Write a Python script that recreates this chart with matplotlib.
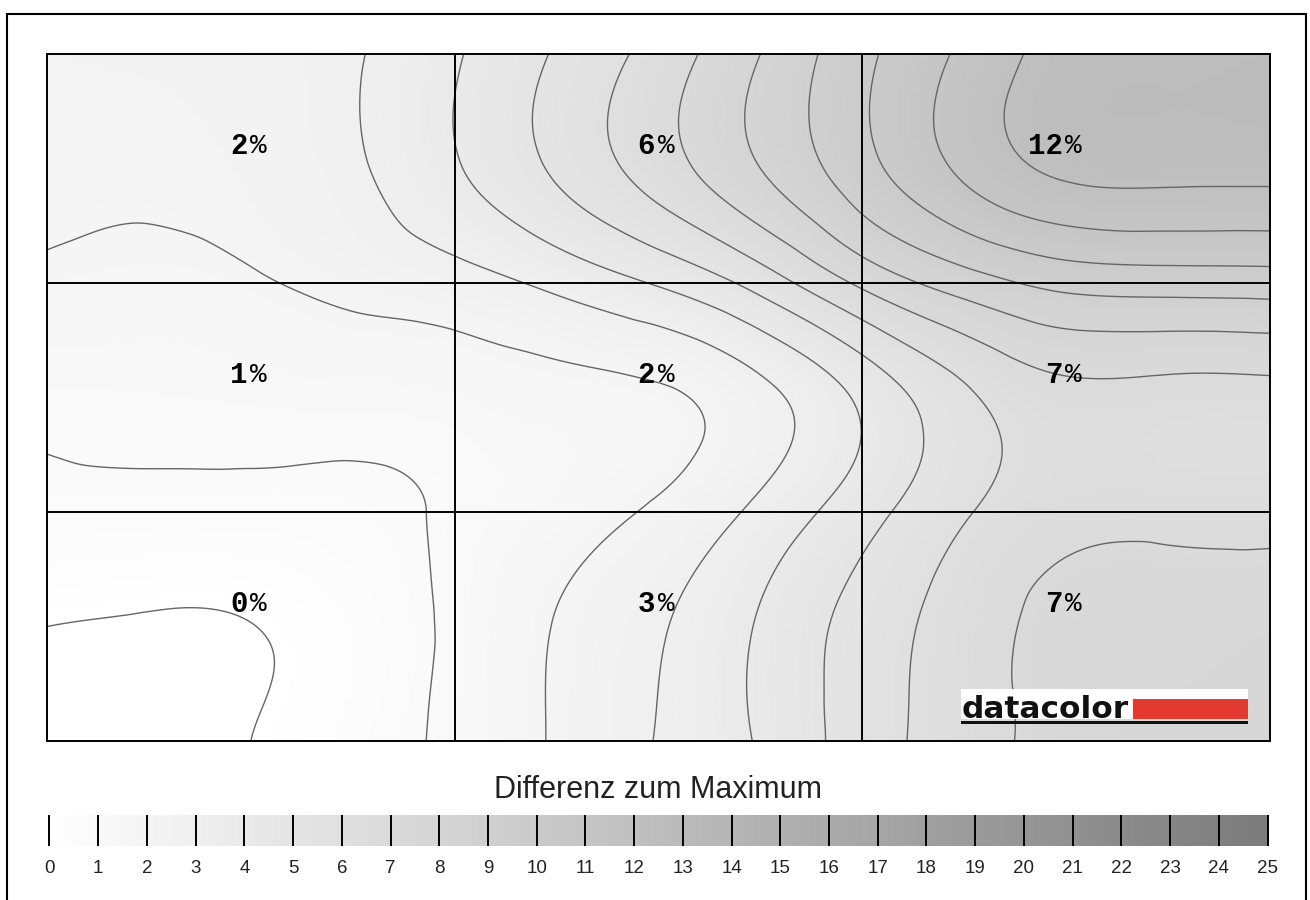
import numpy as np
import matplotlib
matplotlib.use("Agg")
import matplotlib.pyplot as plt
import matplotlib.tri as mtri
from matplotlib.colors import LinearSegmentedColormap
from matplotlib.patches import Rectangle

# sample points of the measured field (cell units, y from bottom)
grid_x = [0, 0.25, 0.5, 0.75, 1.0, 1.25, 1.5, 1.75, 2.0, 2.25, 2.5, 2.75, 3.0]
grid_y = [0, 0.5, 1.0, 1.5, 2.0, 2.5, 3.0]

# difference to maximum in %, one row per grid_y value (bottom -> top)
row_00 = [-0.5, -0.3, 0.0, 0.6, 1.2, 2.1, 3.05, 4.1, 5.5, 6.55, 7.35, 7.6, 7.7]
row_05 = [0.0, -0.1, -0.02, 0.5, 1.15, 2.05, 2.9, 4.1, 5.4, 6.5, 7.3, 7.4, 7.5]
row_10 = [0.8, 0.8, 0.8, 0.85, 1.1, 1.55, 2.15, 3.25, 4.6, 5.9, 6.7, 6.75, 6.7]
row_15 = [1.2, 1.25, 1.3, 1.35, 1.45, 1.65, 1.85, 2.7, 4.2, 5.8, 6.7, 6.65, 6.65]
row_20 = [1.85, 1.75, 1.9, 2.25, 2.6, 3.25, 4.1, 5.4, 7.2, 8.5, 9.3, 9.45, 9.5]
row_25 = [2.08, 2.1, 2.3, 2.85, 3.9, 5.15, 6.5, 8.0, 9.65, 11.2, 12.2, 12.3, 12.3]
row_30 = [2.25, 2.3, 2.45, 2.9, 3.9, 5.1, 6.4, 8.0, 9.75, 11.2, 12.4, 12.6, 12.7]

# labels of the 3x3 cells, top row first
cell_labels = [[2, 6, 12],
               [1, 2, 7],
               [0, 3, 7]]

contour_levels = list(range(0, 13))
scale_ticks = list(range(0, 26))

W, H = 1310, 900
fig = plt.figure(figsize=(W / 100, H / 100), dpi=100)

cmap = LinearSegmentedColormap.from_list("grey_diff", ["#ffffff", "#7c7c7c"])

ax = fig.add_axes([47 / W, (H - 741) / H, (1270 - 47) / W, (741 - 54) / H])
X, Y = np.meshgrid(grid_x, grid_y)
Z = np.array([row_00, row_05, row_10, row_15, row_20, row_25, row_30]).ravel()
tri = mtri.Triangulation(X.ravel(), Y.ravel())
interp = mtri.CubicTriInterpolator(tri, Z, kind="min_E")
refiner = mtri.UniformTriRefiner(tri)
tri_f, z_f = refiner.refine_field(Z, triinterpolator=interp, subdiv=5)

ax.tripcolor(tri_f, z_f, cmap=cmap, vmin=0, vmax=25, shading="gouraud")
ax.tricontour(tri_f, z_f, levels=contour_levels, colors="#666666", linewidths=1.0)

for v in [1, 2]:
    ax.axvline(v, color="black", lw=1.4)
    ax.axhline(v, color="black", lw=1.4)
ax.set_xlim(0, 3)
ax.set_ylim(0, 3)
ax.set_xticks([])
ax.set_yticks([])
for s in ax.spines.values():
    s.set_linewidth(1.4)

# cell labels
for r, row in enumerate(cell_labels):
    for c, val in enumerate(row):
        xc = c + 0.5
        yc = 2 - r + 0.6
        ax.text(xc - 0.008, yc, str(val), ha="right", va="center",
                family="Liberation Mono", fontweight="bold", fontsize=21)
        ax.text(xc - 0.002, yc, "%", ha="left", va="center",
                family="Liberation Mono", fontsize=20)

# datacolor logo
fig.add_artist(Rectangle((961 / W, (H - 719) / H), (1248 - 961) / W, 30 / H,
                         transform=fig.transFigure, fc="white", ec="none", zorder=5))
fig.add_artist(Rectangle((1133 / W, (H - 719) / H), (1248 - 1133) / W, 20 / H,
                         transform=fig.transFigure, fc="#e33a30", ec="none", zorder=6))
fig.add_artist(Rectangle((961 / W, (H - 724) / H), (1248 - 961) / W, 3 / H,
                         transform=fig.transFigure, fc="#111111", ec="none", zorder=6))
fig.text(962 / W, (H - 718) / H, "datacolor", ha="left", va="baseline",
         fontsize=22.5, fontweight="bold", color="#111111", zorder=7)

# colour scale
fig.text(658 / W, (H - 790) / H, "Differenz zum Maximum", ha="center", va="center",
         fontsize=22, family="Liberation Sans", color="#222222")
cax = fig.add_axes([47 / W, (H - 846) / H, (1270 - 47) / W, 31 / H])
grad = np.linspace(0, 25, 500).reshape(1, -1)
cax.imshow(grad, cmap=cmap, vmin=0, vmax=25, extent=[0, 25, 0, 1], aspect="auto")
cax.vlines(scale_ticks, 0, 1, color="black", lw=1.4)
cax.set_xlim(-0.05, 25.05)
cax.set_ylim(0, 1)
cax.axis("off")
for t in scale_ticks:
    cax.text(t, -0.72, str(t), ha="center", va="center", fontsize=13.5,
             family="Liberation Sans", color="#222222")

# outer frame
fig.add_artist(Rectangle((7 / W, -0.01), (1306 - 7) / W, (H - 14) / H + 0.01,
                         transform=fig.transFigure, fill=False, ec="black", lw=1.5))

fig.savefig("out.png", dpi=100)
